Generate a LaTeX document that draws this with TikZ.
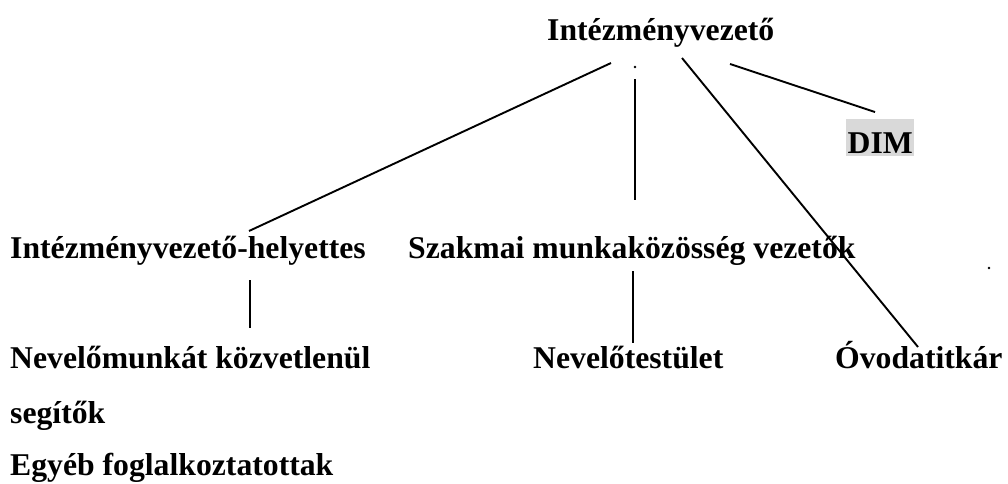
\documentclass[tikz,border=0pt]{standalone}
\usepackage{fontspec}
\setmainfont{Liberation Serif}
\begin{document}
\begin{tikzpicture}[x=1pt,y=-1pt,
  lbl/.style={anchor=base west,inner sep=0pt,font=\fontsize{31.7}{38}\selectfont\bfseries},
  conn/.style={line width=1.9pt,line cap=butt},
  speck/.style={circle,fill=black,inner sep=0pt,minimum size=2.8pt}]
\useasboundingbox (0,0) rectangle (1008,483);
% labels
\node[lbl] (top) at (547,40) {Intézményvezető};
\node[lbl,fill=black!15,inner xsep=1.5pt,text height=34pt,text depth=3pt] (dim) at (846,153) {DIM};
\node[lbl] (helyettes) at (10,258) {Intézményvezető-helyettes};
\node[lbl] (szakmai) at (408,258) {Szakmai munkaközösség vezetők};
\node[lbl] (nevmunk) at (10,368) {Nevelőmunkát közvetlenül};
\node[lbl] (segitok) at (10,423) {segítők};
\node[lbl] (egyeb) at (10,475) {Egyéb foglalkoztatottak};
\node[lbl] (nevtest) at (533,368) {Nevelőtestület};
\node[lbl] (titkar) at (835,368) {Óvodatitkár};
% connector end points
\coordinate (t1) at (611,63);
\coordinate (t2) at (635,79);
\coordinate (t3) at (682,58);
\coordinate (t4) at (730,64);
\coordinate (h1) at (249,231);
\coordinate (s1) at (635,200);
\coordinate (o1) at (918,347);
\coordinate (d1) at (875,112);
\coordinate (hb1) at (250,280);
\coordinate (hb2) at (250,328);
\coordinate (sb1) at (633,271);
\coordinate (sb2) at (633,343);
% connectors
\draw[conn] (t1) -- (h1);
\draw[conn] (t2) -- (s1);
\draw[conn] (t3) -- (o1);
\draw[conn] (t4) -- (d1);
\draw[conn] (hb1) -- (hb2);
\draw[conn] (sb1) -- (sb2);
% stray specks
\node[speck] (sp1) at (635,67) {};
\node[speck] (sp2) at (989,268) {};
\end{tikzpicture}
\end{document}
